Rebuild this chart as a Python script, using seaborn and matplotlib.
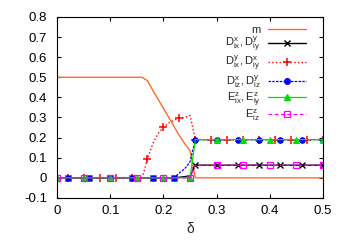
import numpy as np
import pandas as pd
import matplotlib
matplotlib.use('Agg')
import matplotlib.pyplot as plt
from matplotlib.lines import Line2D
import seaborn as sns

# delta grid, step 0.01
delta = [round(0.01 * i, 2) for i in range(51)]

m_vals = [0.5] * 17 + [0.482, 0.435, 0.39, 0.345, 0.30, 0.255, 0.21, 0.17, 0.135] + [0.0] * 25
dxx_vals = [0.0] * 23 + [0.003, 0.006, 0.01] + [0.063] * 25
dxy_vals = [0.0] * 17 + [0.095, 0.17, 0.22, 0.252, 0.272, 0.287, 0.295, 0.30, 0.31] + [0.19] * 25
dz_vals = [0.0] * 23 + [0.025, 0.045, 0.08] + [0.19] * 25
exy_vals = [0.0] * 26 + [0.19] * 25
ezz_vals = [0.0] * 26 + [0.063] * 25

labels = [
    'm',
    r'$\mathregular{D^x_{ix},D^y_{iy}}$',
    r'$\mathregular{D^y_{ix},D^x_{iy}}$',
    r'$\mathregular{D^x_{iz},D^y_{iz}}$',
    r'$\mathregular{E^z_{ix},E^z_{iy}}$',
    r'$\mathregular{E^z_{iz}}$',
]

if __name__ == "__main__":
    sns.set_theme(style='ticks')
    plt.rcParams['font.family'] = ['Liberation Sans', 'DejaVu Sans']
    plt.rcParams['mathtext.fontset'] = 'custom'
    plt.rcParams['mathtext.rm'] = 'Liberation Sans'

    df = pd.DataFrame({'delta': delta, labels[0]: m_vals, labels[1]: dxx_vals,
                       labels[2]: dxy_vals, labels[3]: dz_vals,
                       labels[4]: exy_vals, labels[5]: ezz_vals})

    styles = [
        dict(color='#ff6a2a', linestyle='-', marker='None', lw=1.0),
        dict(color='black', linestyle='-', marker='x', ms=4.5, mew=1.0, mec='black', lw=1.0,
             markevery=slice(2, None, 4)),
        dict(color='red', linestyle=':', marker='+', ms=5.5, mew=1.1, mec='red', lw=1.0,
             markevery=slice(2, None, 3)),
        dict(color='blue', linestyle=(0, (2, 1)), marker='o', ms=4, mec='blue', lw=0.9,
             markevery=slice(2, None, 4)),
        dict(color='#00e000', linestyle='-', marker='^', ms=3.8, mec='#00e000', lw=0.9,
             markevery=slice(0, None, 5)),
        dict(color='magenta', linestyle=(0, (3, 2)), marker='s', ms=4.5, mfc='none', mec='magenta',
             mew=0.9, lw=0.9, markevery=slice(0, None, 5)),
    ]

    fig = plt.figure(figsize=(3.5, 2.45), dpi=100)
    ax = fig.add_axes([0.163, 0.192, 0.760, 0.739])
    handles = []
    for lab, st in zip(labels, styles):
        sns.lineplot(data=df, x='delta', y=lab, ax=ax, **st)
        hst = {k: v for k, v in st.items() if k != 'markevery'}
        handles.append(Line2D([], [], **hst))

    ax.set_xlim(0, 0.5)
    ax.set_ylim(-0.1, 0.8)
    ax.set_xticks([0, 0.1, 0.2, 0.3, 0.4, 0.5])
    ax.set_xticklabels(['0', '0.1', '0.2', '0.3', '0.4', '0.5'])
    ax.set_yticks([-0.1, 0, 0.1, 0.2, 0.3, 0.4, 0.5, 0.6, 0.7, 0.8])
    ax.set_yticklabels(['-0.1', '0', '0.1', '0.2', '0.3', '0.4', '0.5', '0.6', '0.7', '0.8'])
    ax.tick_params(direction='in', length=3, width=0.8, top=True, right=True,
                   labelsize=9.5, colors='black')
    ax.tick_params(axis='y', pad=7)
    ax.tick_params(axis='x', pad=5)
    for sp in ax.spines.values():
        sp.set_color('black')
        sp.set_linewidth(0.8)
    ax.set_xlabel('δ', fontsize=10, labelpad=4)
    ax.set_ylabel('')

    ax.legend(handles, labels, loc='upper right', bbox_to_anchor=(0.948, 0.976),
              markerfirst=False, frameon=False,
              fontsize=8, numpoints=1, handlelength=3.4, handletextpad=0.7,
              labelspacing=0.0, borderaxespad=0.0, borderpad=0.3)

    fig.savefig('out.png', dpi=100)
